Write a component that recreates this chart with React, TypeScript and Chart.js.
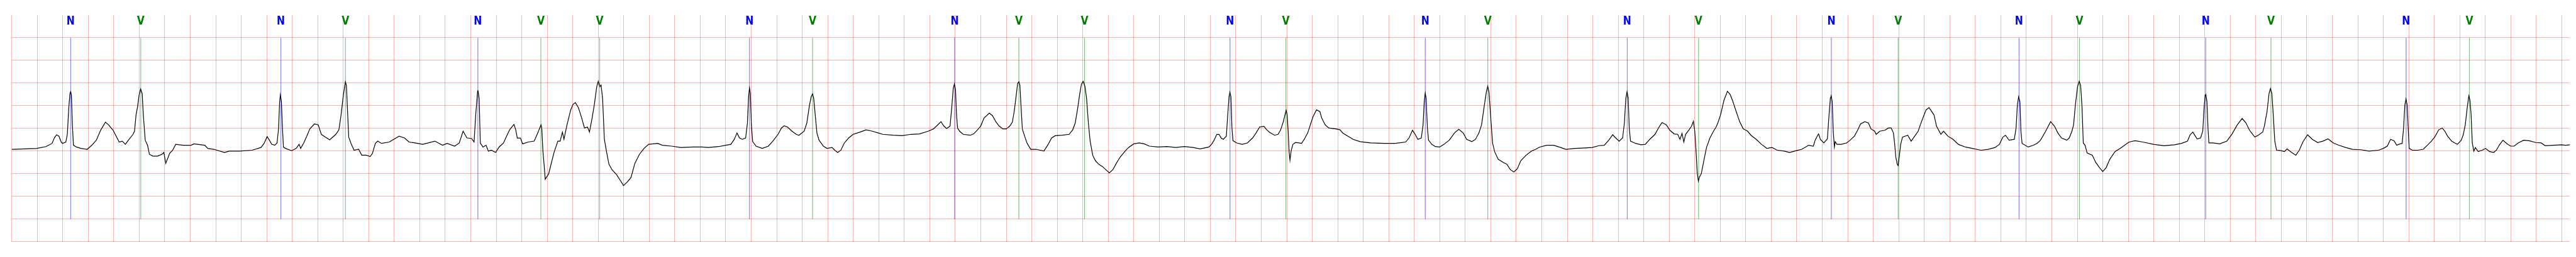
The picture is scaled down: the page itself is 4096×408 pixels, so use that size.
import React, { useEffect, useRef } from "react";
import { Chart, registerables } from "chart.js";

Chart.register(...registerables);

// ECG trace, [time (s), amplitude (mV)], in time windows
const trace0to2: [number, number][] = [
  [0, 0.04], [0.196, 0.06], [0.268, 0.1], [0.316, 0.17], [0.334, 0.29], [0.352, 0.36], [0.37, 0.33], [0.388, 0.2],
  [0.398, 0.17], [0.424, 0.2], [0.436, 0.37], [0.448, 0.98], [0.457, 1.27], [0.462, 1.31], [0.468, 1.24], [0.475, 0.62],
  [0.484, 0.13], [0.508, 0.09], [0.544, 0.06], [0.592, 0.04], [0.628, 0.13], [0.663, 0.24], [0.699, 0.47], [0.735, 0.64],
  [0.759, 0.58], [0.795, 0.46], [0.819, 0.33], [0.843, 0.2], [0.867, 0.22], [0.891, 0.15], [0.915, 0.24], [0.951, 0.37],
  [0.963, 0.44], [0.975, 0.8], [0.987, 0.98], [0.999, 1.24], [1.011, 1.37], [1.023, 1.27], [1.032, 0.8], [1.047, 0.24],
  [1.065, 0.13], [1.08, -0.07], [1.107, -0.11], [1.143, -0.11], [1.178, -0.07], [1.193, -0.03], [1.208, -0.27], [1.226, -0.14],
  [1.238, -0.05], [1.262, 0.02], [1.286, 0.15], [1.346, 0.13], [1.406, 0.13], [1.43, 0.16], [1.514, 0.13], [1.538, 0.06],
  [1.586, 0.04], [1.669, -0.03], [1.705, 0.0],
];
const trace2to4: [number, number][] = [
  [1.787, 0.0], [1.884, 0.02], [1.955, 0.08], [1.979, 0.17], [2.003, 0.32], [2.021, 0.24], [2.039, 0.15], [2.063, 0.13],
  [2.081, 0.18], [2.093, 0.51], [2.101, 1.09], [2.107, 1.24], [2.115, 1.09], [2.123, 0.51], [2.131, 0.09], [2.147, 0.06],
  [2.195, 0.01], [2.231, 0.06], [2.254, 0.15], [2.266, 0.06], [2.29, 0.18], [2.314, 0.33], [2.338, 0.49], [2.374, 0.6],
  [2.404, 0.58], [2.428, 0.37], [2.458, 0.31], [2.494, 0.25], [2.542, 0.37], [2.566, 0.47], [2.583, 0.8], [2.601, 1.24],
  [2.617, 1.53], [2.625, 1.45], [2.635, 0.8], [2.643, 0.31], [2.661, 0.17], [2.685, 0.02], [2.721, 0.04], [2.745, -0.09],
  [2.781, -0.09], [2.811, -0.12], [2.829, -0.05], [2.852, 0.17], [2.87, 0.22], [2.9, 0.17], [2.96, 0.2], [2.996, 0.26],
  [3.038, 0.33], [3.08, 0.29], [3.116, 0.2], [3.163, 0.18], [3.223, 0.15], [3.319, 0.22], [3.379, 0.13], [3.415, 0.17],
  [3.474, 0.11], [3.51, 0.18], [3.54, 0.44], [3.57, 0.29], [3.606, 0.28], [3.626, 0.2], [3.639, 0.8], [3.654, 1.33],
  [3.657, 1.33],
];
const trace4to6: [number, number][] = [
  [3.666, 1.16], [3.675, 0.18], [3.696, 0.09], [3.72, 0.13], [3.738, 0.0], [3.762, 0.02], [3.795, -0.03], [3.822, 0.09],
  [3.857, 0.18], [3.881, 0.33], [3.905, 0.47], [3.939, 0.59], [3.953, 0.47], [3.965, 0.29], [3.989, 0.29], [4.007, 0.16],
  [4.049, 0.2], [4.097, 0.22], [4.121, 0.37], [4.151, 0.58], [4.157, 0.51], [4.166, 0.0], [4.175, -0.29], [4.184, -0.62],
  [4.211, -0.5], [4.229, -0.3], [4.253, -0.03], [4.283, 0.22], [4.301, 0.22], [4.319, 0.42], [4.331, 0.26], [4.355, 0.58],
  [4.384, 0.91], [4.402, 1.03], [4.42, 1.07], [4.444, 0.96], [4.468, 0.75], [4.492, 0.51], [4.516, 0.53], [4.531, 0.42],
  [4.552, 0.73], [4.57, 1.04], [4.588, 1.42], [4.6, 1.54], [4.612, 1.42], [4.622, 1.46], [4.634, 1.16], [4.648, 0.26],
  [4.666, -0.03], [4.684, -0.29], [4.708, -0.41], [4.744, -0.52], [4.774, -0.65], [4.798, -0.76], [4.828, -0.68], [4.857, -0.58],
  [4.887, -0.27], [4.923, -0.07], [4.959, 0.06], [4.995, 0.15], [5.067, 0.17], [5.103, 0.13], [5.175, 0.11], [5.247, 0.08],
  [5.342, 0.09], [5.414, 0.09], [5.462, 0.08],
];
const trace6to8: [number, number][] = [
  [5.544, 0.1], [5.599, 0.13], [5.64, 0.15], [5.667, 0.26], [5.688, 0.4], [5.708, 0.29], [5.729, 0.26], [5.756, 0.29],
  [5.77, 0.62], [5.779, 1.2], [5.786, 1.39], [5.793, 1.27], [5.801, 0.58], [5.811, 0.21], [5.838, 0.11], [5.886, 0.06],
  [5.934, 0.11], [5.969, 0.22], [6.01, 0.37], [6.037, 0.51], [6.058, 0.56], [6.085, 0.53], [6.119, 0.44], [6.153, 0.37],
  [6.174, 0.35], [6.215, 0.44], [6.236, 0.62], [6.256, 1.0], [6.27, 1.2], [6.281, 1.26], [6.29, 1.16], [6.304, 0.73],
  [6.315, 0.4], [6.332, 0.24], [6.366, 0.11], [6.393, 0.06], [6.434, 0.08], [6.455, 0.02], [6.478, -0.03], [6.503, 0.02],
  [6.53, 0.18], [6.564, 0.29], [6.599, 0.37], [6.654, 0.42], [6.701, 0.47], [6.749, 0.44], [6.797, 0.4], [6.832, 0.37],
  [6.914, 0.35], [6.982, 0.34], [7.051, 0.37], [7.119, 0.38], [7.188, 0.44], [7.229, 0.49], [7.27, 0.6], [7.288, 0.65],
  [7.311, 0.55], [7.332, 0.5], [7.359, 0.55], [7.373, 0.98], [7.384, 1.38], [7.393, 1.48], [7.402, 1.36], [7.41, 0.8],
  [7.418, 0.51], [7.434, 0.44], [7.462, 0.37], [7.517, 0.35], [7.544, 0.38], [7.571, 0.46], [7.599, 0.55], [7.626, 0.73],
  [7.667, 0.84],
];
const trace8to10: [number, number][] = [
  [7.692, 0.78], [7.718, 0.65], [7.745, 0.55], [7.773, 0.49], [7.8, 0.49], [7.827, 0.55], [7.848, 0.64], [7.862, 0.87],
  [7.875, 1.16], [7.889, 1.49], [7.899, 1.53], [7.907, 1.45], [7.916, 0.98], [7.926, 0.49], [7.944, 0.33], [7.964, 0.17],
  [7.992, 0.04], [8.033, 0.04], [8.067, 0.02], [8.095, 0.0], [8.129, 0.15], [8.156, 0.29], [8.184, 0.34], [8.238, 0.35],
  [8.293, 0.37], [8.321, 0.47], [8.341, 0.62], [8.362, 0.98], [8.375, 1.24], [8.389, 1.47], [8.403, 1.54], [8.417, 1.43],
  [8.43, 1.16], [8.444, 0.62], [8.458, 0.22], [8.478, -0.09], [8.499, -0.21], [8.526, -0.29], [8.554, -0.34], [8.581, -0.41],
  [8.608, -0.48], [8.636, -0.41], [8.663, -0.27], [8.691, -0.14], [8.732, 0.0], [8.759, 0.08], [8.8, 0.16], [8.841, 0.18],
  [8.882, 0.16], [8.923, 0.11], [8.992, 0.09], [9.06, 0.1], [9.129, 0.08], [9.197, 0.1], [9.266, 0.08], [9.321, 0.05],
  [9.389, 0.09], [9.41, 0.15], [9.43, 0.24], [9.451, 0.37], [9.469, 0.37], [9.485, 0.29], [9.502, 0.26], [9.526, 0.33],
  [9.537, 0.8], [9.547, 1.2], [9.554, 1.3], [9.562, 1.2], [9.57, 0.51], [9.578, 0.23], [9.608, 0.18], [9.65, 0.15],
  [9.691, 0.18], [9.732, 0.29], [9.759, 0.4], [9.787, 0.53], [9.821, 0.55],
];
const trace10to12: [number, number][] = [
  [9.839, 0.48], [9.863, 0.42], [9.904, 0.35], [9.932, 0.37], [9.952, 0.47], [9.973, 0.65], [9.986, 0.8], [9.995, 0.9],
  [10.003, 0.8], [10.011, 0.44], [10.018, 0.0], [10.025, -0.2], [10.034, 0.0], [10.048, 0.15], [10.069, 0.19], [10.096, 0.18],
  [10.116, 0.17], [10.137, 0.26], [10.164, 0.4], [10.185, 0.58], [10.206, 0.76], [10.233, 0.91], [10.26, 0.87], [10.274, 0.73],
  [10.301, 0.58], [10.329, 0.51], [10.384, 0.49], [10.418, 0.47], [10.438, 0.4], [10.48, 0.33], [10.521, 0.26], [10.575, 0.21],
  [10.658, 0.18], [10.767, 0.17], [10.849, 0.17], [10.932, 0.2], [10.959, 0.29], [10.986, 0.46], [11.007, 0.37], [11.028, 0.26],
  [11.055, 0.29], [11.069, 0.58], [11.078, 1.09], [11.086, 1.28], [11.093, 1.16], [11.103, 0.51], [11.112, 0.24], [11.137, 0.15],
  [11.165, 0.1], [11.199, 0.09], [11.233, 0.15], [11.274, 0.24], [11.315, 0.4], [11.349, 0.48], [11.384, 0.4], [11.411, 0.26],
  [11.452, 0.21], [11.48, 0.26], [11.507, 0.4], [11.528, 0.58], [11.548, 0.98], [11.565, 1.3], [11.576, 1.43], [11.586, 1.3],
  [11.6, 0.73], [11.614, 0.18], [11.63, -0.01], [11.658, -0.18], [11.699, -0.25], [11.726, -0.29], [11.754, -0.41], [11.781, -0.46],
  [11.808, -0.39], [11.836, -0.21], [11.877, -0.09], [11.918, 0.0], [11.952, 0.04],
];
const trace12to14: [number, number][] = [
  [11.984, 0.09], [12.038, 0.13], [12.093, 0.13], [12.148, 0.08], [12.189, 0.04], [12.258, 0.06], [12.34, 0.07], [12.395, 0.08],
  [12.449, 0.12], [12.49, 0.13], [12.525, 0.24], [12.556, 0.36], [12.58, 0.29], [12.607, 0.22], [12.634, 0.29], [12.648, 0.62],
  [12.659, 1.16], [12.669, 1.31], [12.678, 1.16], [12.686, 0.51], [12.696, 0.22], [12.737, 0.17], [12.778, 0.14], [12.812, 0.15],
  [12.847, 0.26], [12.888, 0.37], [12.915, 0.51], [12.943, 0.63], [12.977, 0.58], [13.004, 0.46], [13.038, 0.38], [13.066, 0.37],
  [13.084, 0.26], [13.1, 0.39], [13.114, 0.2], [13.128, 0.37], [13.155, 0.47], [13.175, 0.55], [13.189, 0.66], [13.2, 0.44],
  [13.21, 0.0], [13.219, -0.47], [13.228, -0.66], [13.237, -0.57], [13.251, -0.5], [13.271, -0.21], [13.292, 0.08], [13.319, 0.29],
  [13.347, 0.44], [13.367, 0.53], [13.381, 0.62], [13.402, 0.8], [13.429, 1.12], [13.456, 1.32], [13.477, 1.25], [13.497, 1.11],
  [13.525, 0.87], [13.552, 0.65], [13.58, 0.49], [13.614, 0.44], [13.641, 0.35], [13.682, 0.26], [13.723, 0.15], [13.765, 0.06],
  [13.806, 0.08], [13.847, 0.02], [13.902, 0.0], [13.943, -0.03], [13.997, 0.01], [14.039, 0.04], [14.093, 0.13],
];
const trace14to16: [number, number][] = [
  [14.13, 0.11], [14.144, 0.24], [14.164, 0.35], [14.171, 0.38], [14.185, 0.26], [14.212, 0.18], [14.24, 0.27], [14.253, 0.8],
  [14.263, 1.16], [14.27, 1.22], [14.278, 1.09], [14.286, 0.44], [14.295, 0.09], [14.301, 0.21], [14.315, 0.15], [14.349, 0.15],
  [14.39, 0.18], [14.418, 0.24], [14.452, 0.33], [14.479, 0.47], [14.5, 0.6], [14.534, 0.65], [14.562, 0.62], [14.582, 0.49],
  [14.61, 0.44], [14.623, 0.37], [14.651, 0.44], [14.692, 0.46], [14.719, 0.51], [14.74, 0.51], [14.758, 0.4], [14.767, 0.18],
  [14.777, -0.14], [14.788, -0.29], [14.795, -0.32], [14.804, -0.11], [14.815, 0.15], [14.829, 0.31], [14.87, 0.35], [14.897, 0.22],
  [14.925, 0.33], [14.952, 0.44], [14.969, 0.58], [14.993, 0.76], [15.014, 0.91], [15.037, 0.96], [15.076, 0.8], [15.096, 0.55],
  [15.13, 0.37], [15.151, 0.44], [15.185, 0.33], [15.226, 0.26], [15.267, 0.15], [15.322, 0.09], [15.377, 0.06], [15.445, 0.02],
  [15.5, 0.04], [15.555, 0.08], [15.589, 0.15], [15.617, 0.31], [15.637, 0.35], [15.665, 0.24], [15.706, 0.26], [15.72, 0.51],
  [15.73, 1.02], [15.74, 1.2], [15.75, 1.09], [15.758, 0.44], [15.767, 0.17], [15.815, 0.09], [15.856, 0.13], [15.884, 0.17],
  [15.911, 0.24], [15.952, 0.44], [15.991, 0.65], [16.021, 0.55], [16.048, 0.4], [16.076, 0.29], [16.117, 0.24], [16.137, 0.29],
  [16.158, 0.44], [16.171, 0.58], [16.185, 1.02], [16.202, 1.42], [16.215, 1.54], [16.226, 1.45], [16.237, 0.98], [16.247, 0.18],
  [16.261, 0.13],
];
const trace16to18: [number, number][] = [
  [16.277, -0.04], [16.318, -0.09], [16.345, -0.25], [16.373, -0.36], [16.4, -0.45], [16.427, -0.36], [16.455, -0.18], [16.496, -0.01],
  [16.537, 0.06], [16.571, 0.13], [16.606, 0.2], [16.653, 0.23], [16.715, 0.2], [16.797, 0.15], [16.88, 0.12], [16.962, 0.14],
  [17.017, 0.17], [17.064, 0.22], [17.085, 0.36], [17.106, 0.42], [17.126, 0.33], [17.14, 0.27], [17.167, 0.29], [17.184, 0.44],
  [17.195, 0.98], [17.203, 1.23], [17.208, 1.25], [17.217, 1.09], [17.225, 0.51], [17.232, 0.18], [17.263, 0.18], [17.318, 0.16],
  [17.373, 0.22], [17.414, 0.38], [17.455, 0.58], [17.493, 0.72], [17.523, 0.62], [17.551, 0.46], [17.592, 0.31], [17.619, 0.35],
  [17.654, 0.42], [17.667, 0.55], [17.688, 0.87], [17.704, 1.27], [17.715, 1.38], [17.726, 1.27], [17.737, 0.8], [17.749, 0.22],
  [17.763, 0.02], [17.797, 0.01], [17.825, -0.01], [17.845, 0.05], [17.88, -0.03], [17.914, -0.09], [17.941, 0.02], [17.969, 0.2],
  [18.006, 0.36], [18.044, 0.26], [18.085, 0.19], [18.126, 0.22], [18.167, 0.27], [18.208, 0.18], [18.25, 0.13], [18.304, 0.08],
  [18.359, 0.04], [18.425, 0.03],
];
const trace18to20: [number, number][] = [
  [18.487, 0.0], [18.562, 0.02], [18.6, 0.06], [18.631, 0.11], [18.657, 0.26], [18.684, 0.23], [18.705, 0.13], [18.732, 0.16],
  [18.748, 0.17], [18.759, 0.51], [18.769, 1.02], [18.778, 1.15], [18.787, 1.02], [18.796, 0.47], [18.803, 0.06], [18.828, 0.02],
  [18.87, 0.02], [18.913, 0.04], [18.945, 0.13], [18.977, 0.22], [19.003, 0.31], [19.035, 0.47], [19.062, 0.51], [19.083, 0.44],
  [19.104, 0.33], [19.136, 0.22], [19.168, 0.17], [19.181, 0.15], [19.211, 0.24], [19.227, 0.36], [19.243, 0.58], [19.259, 0.98],
  [19.271, 1.22], [19.28, 1.12], [19.288, 0.83], [19.298, 0.18], [19.31, 0.0], [19.322, 0.08], [19.344, -0.01], [19.376, 0.02],
  [19.402, 0.06], [19.434, -0.01], [19.466, -0.03], [19.487, 0.02], [19.509, 0.13], [19.538, 0.24], [19.572, 0.16], [19.599, 0.11],
  [19.626, 0.11], [19.658, 0.18], [19.7, 0.24], [19.743, 0.23], [19.796, 0.19], [19.838, 0.18], [19.87, 0.12], [19.934, 0.13],
  [19.998, 0.14], [20.03, 0.13], [20.062, 0.14],
];

// beat annotations
const beatTimes = [
  0.462, 1.012, 2.111, 2.617, 3.656, 4.15, 4.611, 5.786, 6.281, 7.395, 7.899, 8.414, 9.555,
  9.993, 11.086, 11.577, 12.67, 13.23, 14.271, 14.795, 15.743, 16.217, 17.207, 17.719, 18.779, 19.275,
];
const beatLabels = [
  "N", "V", "N", "V", "N", "V", "V", "N", "V", "N", "V", "V", "N",
  "V", "N", "V", "N", "V", "N", "V", "N", "V", "N", "V", "N", "V",
];

// axes (s, mV)
const xRange = [0, 20.062];
const yRange = [-2, 3];
const xGridStep = 0.2;
const yGridStep = 0.5;
const markerSpan = [-1.5, 2.5];
const labelBaseline = 2.796;

const labelColors: Record<string, string> = { N: "#0000ff", V: "#008000" };
const lineColors: Record<string, string> = { N: "rgba(0,0,255,0.38)", V: "rgba(0,128,0,0.38)" };

function markerData(kind: string) {
  const out: { x: number; y: number | null }[] = [];
  beatTimes.forEach((t, i) => {
    if (beatLabels[i] !== kind) return;
    out.push({ x: t, y: markerSpan[1] }, { x: t, y: markerSpan[0] }, { x: t, y: null });
  });
  return out;
}

const labelPlugin = {
  id: "beatLabels",
  afterDatasetsDraw(chart: any) {
    const { ctx, scales } = chart;
    const xs = scales.x;
    const ys = scales.y;
    ctx.save();
    ctx.font = 'bold 19.5px "DejaVu Sans"';
    ctx.textAlign = "center";
    ctx.textBaseline = "alphabetic";
    beatTimes.forEach((t, i) => {
      const px = xs.getPixelForValue(t);
      const py = ys.getPixelForValue(labelBaseline);
      ctx.save();
      ctx.translate(px, py);
      ctx.scale(0.8, 1);
      ctx.fillStyle = labelColors[beatLabels[i]];
      ctx.fillText(beatLabels[i], 0, 0);
      ctx.restore();
    });
    ctx.restore();
  },
};

export default function App() {
  const ref = useRef<HTMLCanvasElement | null>(null);
  useEffect(() => {
    if (!ref.current) return;
    const trace = [
      ...trace0to2, ...trace2to4, ...trace4to6, ...trace6to8, ...trace8to10,
      ...trace10to12, ...trace12to14, ...trace14to16, ...trace16to18, ...trace18to20,
    ].map(([x, y]) => ({ x, y }));
    const gridColor = "rgba(255,0,0,0.3)";
    const chart = new Chart(ref.current, {
      type: "line",
      data: {
        datasets: [
          {
            data: trace,
            borderColor: "#000000",
            borderWidth: 1.2,
            pointRadius: 0,
            tension: 0,
            fill: false,
          },
          {
            data: markerData("N") as any,
            borderColor: lineColors.N,
            borderWidth: 0.6,
            pointRadius: 0,
            spanGaps: false,
            fill: false,
          },
          {
            data: markerData("V") as any,
            borderColor: lineColors.V,
            borderWidth: 0.6,
            pointRadius: 0,
            spanGaps: false,
            fill: false,
          },
        ],
      },
      options: {
        responsive: false,
        animation: false,
        events: [],
        layout: { padding: { left: 18.66, right: 10, top: 23.94, bottom: 24.1 } },
        plugins: { legend: { display: false }, tooltip: { enabled: false } },
        scales: {
          x: {
            type: "linear",
            min: xRange[0],
            max: xRange[1],
            border: { display: false },
            grid: { color: gridColor, lineWidth: 1, drawTicks: false },
            ticks: { display: false, stepSize: xGridStep, includeBounds: false, autoSkip: false, maxTicksLimit: 500 },
          },
          y: {
            type: "linear",
            min: yRange[0],
            max: yRange[1],
            border: { display: false },
            grid: {
              color: (c: any) => (c.tick && Math.abs(c.tick.value - yRange[1]) < 1e-6 ? "rgba(0,0,0,0)" : gridColor),
              lineWidth: 1,
              drawTicks: false,
            },
            ticks: { display: false, stepSize: yGridStep, autoSkip: false },
          },
        },
      },
      plugins: [labelPlugin],
    });
    return () => chart.destroy();
  }, []);
  return (
    <div style={{ position: "fixed", left: 0, top: 0, width: 4096, height: 408, background: "#fff" }}>
      <canvas ref={ref} width={4096} height={408} style={{ display: "block" }} />
    </div>
  );
}
